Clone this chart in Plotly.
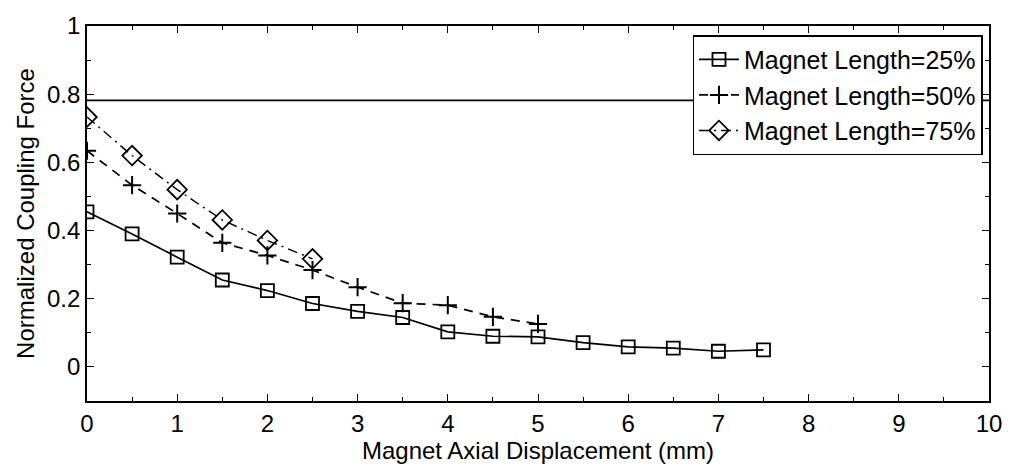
import plotly.graph_objects as go

x25 = [0, 0.5, 1, 1.5, 2, 2.5, 3, 3.5, 4, 4.5, 5, 5.5, 6, 6.5, 7, 7.5]
y25 = [0.455, 0.390, 0.322, 0.255, 0.224, 0.186, 0.163, 0.145, 0.103, 0.090, 0.088, 0.071, 0.059, 0.055, 0.046, 0.050]
x50 = [0, 0.5, 1, 1.5, 2, 2.5, 3, 3.5, 4, 4.5, 5]
y50 = [0.634, 0.533, 0.450, 0.364, 0.327, 0.284, 0.234, 0.187, 0.181, 0.147, 0.126]
x75 = [0, 0.5, 1, 1.5, 2, 2.5]
y75 = [0.733, 0.620, 0.520, 0.431, 0.371, 0.317]
ref_level = 0.782

names = ["Magnet Length=25%", "Magnet Length=50%", "Magnet Length=75%"]
x_ticks = [0, 1, 2, 3, 4, 5, 6, 7, 8, 9, 10]
y_ticks = [0, 0.2, 0.4, 0.6, 0.8, 1]
y_tick_text = ["0", "0.2", "0.4", "0.6", "0.8", "1"]
FONT = "Liberation Sans, Arial, Helvetica, sans-serif"

fig = go.Figure()
fig.add_trace(go.Scatter(x=x25, y=y25, name=names[0], mode="lines+markers",
                         line=dict(color="black", width=1.7, dash="solid"),
                         marker=dict(symbol="square-open", size=13, color="black", line=dict(width=1.8))))
fig.add_trace(go.Scatter(x=x50, y=y50, name=names[1], mode="lines+markers",
                         line=dict(color="black", width=1.7, dash="9px,7px"),
                         marker=dict(symbol="cross-thin-open", size=13, color="black", line=dict(width=2, color="black"))))
fig.add_trace(go.Scatter(x=x75, y=y75, name=names[2], mode="lines+markers",
                         line=dict(color="black", width=1.4, dash="10px,5px,2px,5px"),
                         marker=dict(symbol="diamond-open", size=15, color="black", line=dict(width=1.8))))

fig.add_shape(type="line", xref="x domain", yref="y", x0=0, x1=1, y0=ref_level, y1=ref_level,
              line=dict(color="black", width=1.8))

axis_common = dict(showgrid=False, zeroline=False, showline=True, linecolor="black", linewidth=1.6,
                   mirror="ticks", ticks="inside", tickcolor="black", ticklen=7, tickwidth=1.3,
                   tickfont=dict(family=FONT, size=24, color="black"))

fig.update_xaxes(range=[0, 10], tickvals=x_ticks,
                 minor=dict(dtick=0.5, ticklen=4, tickcolor="black", ticks="inside", tickwidth=1),
                 title=dict(text="Magnet Axial Displacement (mm)", font=dict(family=FONT, size=24, color="black"), standoff=0),
                 **axis_common)
fig.update_yaxes(range=[-0.1, 1], tickvals=y_ticks, ticktext=y_tick_text,
                 minor=dict(tickvals=[-0.1, 0.1, 0.3, 0.5, 0.7, 0.9], ticklen=4, tickcolor="black", ticks="inside", tickwidth=1),
                 title=dict(text="Normalized Coupling Force", font=dict(family=FONT, size=24, color="black"), standoff=6),
                 **axis_common)

fig.update_layout(
    width=1014, height=470,
    margin=dict(l=87, r=16, t=15, b=69),
    plot_bgcolor="white", paper_bgcolor="white",
    font=dict(family=FONT, color="black"),
    legend=dict(x=0.993, y=0.975, xanchor="right", yanchor="top",
                bordercolor="black", borderwidth=1.3, bgcolor="white",
                font=dict(family=FONT, size=25, color="black"),
                tracegroupgap=0, itemwidth=40),
)

fig.write_html("out.html")
